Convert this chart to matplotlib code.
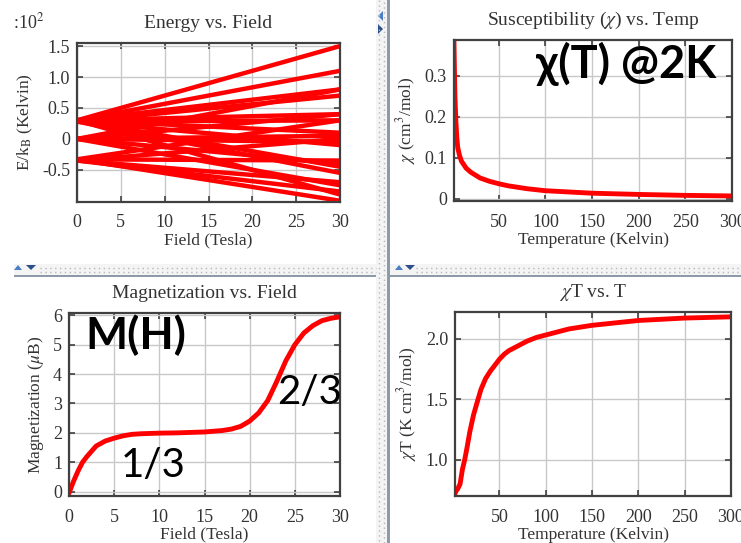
import numpy as np
import matplotlib
matplotlib.use("Agg")
from matplotlib import pyplot as plt
from matplotlib.patches import Rectangle, Polygon
from matplotlib.lines import Line2D

plt.rcParams['font.family'] = ['Liberation Serif', 'DejaVu Serif']
plt.rcParams['mathtext.fontset'] = 'stix'

W, H = 741, 543

# --- energy levels (in units of 10^2 K), straight Zeeman lines from 0 T to 30 T
field_ends = [0, 30]
e_start = [0.30, 0.30, 0.30, 0.28, 0.30, 0.28, 0.30, 0.28, 0.30, 0.28, 0.30,
           0.00, 0.00, 0.00, 0.00, 0.00, 0.00,
           -0.33, -0.35, -0.33, -0.35, -0.35, -0.33]
e_end = [1.50, 1.10, 0.80, 0.70, 0.40, 0.30, 0.10, -0.10, -0.45, -0.55, -0.90,
         0.80, 0.40, 0.05, -0.05, -0.40, -0.75,
         0.30, 0.00, -0.35, -0.70, -0.85, -1.00]

# --- susceptibility vs temperature
temp_chi = [2, 2.5, 3, 4, 5, 6, 8, 10, 15, 20, 30, 40, 50, 60, 80, 100,
            150, 200, 250, 300]
chi = [0.38, 0.31, 0.25, 0.19, 0.15, 0.125, 0.105, 0.092, 0.075, 0.065,
       0.051, 0.043, 0.037, 0.032, 0.025, 0.020, 0.014, 0.011, 0.0087, 0.0073]

# --- magnetization vs field
field_m = [0, 0.5, 1, 1.5, 2, 3, 4, 5, 6, 7, 8, 10, 12, 15, 17, 18, 19, 20,
           21, 22, 23, 24, 25, 26, 27, 28, 29, 30]
mag = [-0.05, 0.35, 0.7, 1.0, 1.2, 1.55, 1.72, 1.82, 1.9, 1.95, 1.97, 1.99,
       2.0, 2.03, 2.08, 2.13, 2.22, 2.4, 2.68, 3.1, 3.75, 4.45, 5.0, 5.4,
       5.65, 5.82, 5.9, 5.95]

# --- chi*T vs temperature
temp_chit = [2, 3, 5, 7.5, 10, 12.5, 15, 18, 22, 25, 30, 35, 40, 45, 50, 55,
             60, 70, 80, 90, 100, 125, 150, 175, 200, 250, 300]
chit = [0.72, 0.74, 0.76, 0.80, 0.92, 1.0, 1.1, 1.23, 1.37, 1.45, 1.58,
        1.67, 1.73, 1.78, 1.83, 1.87, 1.90, 1.94, 1.98, 2.01, 2.03, 2.08,
        2.11, 2.13, 2.15, 2.17, 2.18]

RED = '#ff0000'
FRAME = '#404040'
TXT = '#333333'


def px_axes(fig, left, top, right, bottom):
    return fig.add_axes([left / W, 1 - bottom / H, (right - left) / W,
                         (bottom - top) / H])


def style(ax, title, xlabel, ylabel):
    ax.set_title(title, fontsize=14, color=TXT, pad=11)
    ax.set_xlabel(xlabel, fontsize=12.5, color=TXT, labelpad=1)
    ax.set_ylabel(ylabel, fontsize=12.5, color=TXT, labelpad=5)
    ax.grid(True, color='#c8c8c8', lw=1.0)
    ax.set_axisbelow(True)
    for s in ax.spines.values():
        s.set_color(FRAME)
        s.set_linewidth(1.6)
    ax.tick_params(direction='in', length=4, width=1.2, color=FRAME,
                   top=True, right=True, labelsize=13, labelcolor=TXT)
    ax.tick_params(axis='x', pad=9)
    ax.tick_params(axis='y', pad=5)


fig = plt.figure(figsize=(W / 100, H / 100), dpi=100)
fig.patch.set_facecolor('white')

# panel 1: energy vs field
ax1 = px_axes(fig, 77, 43, 340, 202)
for a, b in zip(e_start, e_end):
    ax1.plot(field_ends, [a, b], color=RED, lw=3.2, solid_capstyle='butt')
ax1.set_xlim(0, 30)
ax1.set_ylim(-1.02, 1.55)
ax1.set_xticks([0, 5, 10, 15, 20, 25, 30])
ax1.set_yticks([-0.5, 0, 0.5, 1.0, 1.5])
ax1.set_yticklabels(['-0.5', '0', '0.5', '1.0', '1.5'])
style(ax1, 'Energy vs. Field', 'Field (Tesla)', r'E/k$_{\rm B}$ (Kelvin)')
fig.text(13 / W, 1 - 28 / H, ':10$^{2}$', fontsize=13, color=TXT,
         ha='left', va='baseline')

# panel 2: susceptibility vs temperature
ax2 = px_axes(fig, 454, 40, 732, 201)
ax2.plot(temp_chi, chi, color=RED, lw=3.5)
ax2.set_xlim(2, 300)
ax2.set_ylim(-0.005, 0.387)
ax2.set_xticks([50, 100, 150, 200, 250, 300])
ax2.set_yticks([0, 0.1, 0.2, 0.3])
ax2.set_yticklabels(['0', '0.1', '0.2', '0.3'])
style(ax2, r'Susceptibility ($\chi$) vs. Temp', 'Temperature (Kelvin)',
      r'$\chi$ (cm$^3$/mol)')
ax2.text(0.618, 0.85, 'χ(T) @2K', transform=ax2.transAxes, fontsize=32.5,
         fontweight='bold', family=['Lato', 'DejaVu Sans'], ha='center',
         va='center', color='black')

# panel 3: magnetization vs field
ax3 = px_axes(fig, 69, 313, 340, 496)
ax3.plot(field_m, mag, color=RED, lw=3.5)
ax3.set_xlim(0, 30)
ax3.set_ylim(-0.15, 6.08)
ax3.set_xticks([0, 5, 10, 15, 20, 25, 30])
ax3.set_yticks([0, 1, 2, 3, 4, 5, 6])
style(ax3, 'Magnetization vs. Field', 'Field (Tesla)',
      r'Magnetization ($\mu$B)')
ax3.text(0.059, 0.88, 'M(H)', transform=ax3.transAxes, fontsize=32,
         fontweight='bold', family=['Lato', 'DejaVu Sans'], ha='left',
         va='center', color='black')
ax3.text(0.31, 0.164, '1/3', transform=ax3.transAxes, fontsize=29,
         family=['Lato', 'DejaVu Sans'], ha='center', va='center',
         color='black')
ax3.text(0.889, 0.563, '2/3', transform=ax3.transAxes, fontsize=29,
         family=['Lato', 'DejaVu Sans'], ha='center', va='center',
         color='black')

# panel 4: chi*T vs temperature
ax4 = px_axes(fig, 455, 312, 731, 496)
ax4.plot(temp_chit, chit, color=RED, lw=3.5)
ax4.set_xlim(2, 300)
ax4.set_ylim(0.70, 2.22)
ax4.set_xticks([50, 100, 150, 200, 250, 300])
ax4.set_yticks([1.0, 1.5, 2.0])
ax4.set_yticklabels(['1.0', '1.5', '2.0'])
style(ax4, r'$\chi$T vs. T', 'Temperature (Kelvin)',
      r'$\chi$T (K cm$^3$/mol)')


# window separators of the screenshot
def rect(x0, y0, x1, y1, color):
    fig.add_artist(Rectangle((x0 / W, 1 - y1 / H), (x1 - x0) / W,
                             (y1 - y0) / H, transform=fig.transFigure,
                             facecolor=color, edgecolor='none'))


def dots(x0, y0, x1, y1):
    fig.add_artist(Line2D([x0 / W, x1 / W], [1 - y0 / H, 1 - y1 / H],
                          transform=fig.transFigure, color='#b4b8bc',
                          lw=1.0, ls=(0, (1, 2.5))))


def tri(points, color):
    fig.add_artist(Polygon([(x / W, 1 - y / H) for x, y in points],
                           closed=True, transform=fig.transFigure,
                           facecolor=color, edgecolor='none'))


rect(376, 0, 387, H, '#f4f4f4')
rect(387, 0, 390, H, '#8d9aa8')
dots(379, 0, 379, H)
dots(383.5, 1.5, 383.5, H)

rect(14, 264, 376, 275, '#f4f4f4')
rect(14, 275, 376, 277, '#8d9aa8')
dots(40, 268, 376, 268)
dots(40, 272, 376, 272)

rect(390, 264, W, 275, '#f4f4f4')
rect(390, 275, W, 277, '#8d9aa8')
dots(416, 268, W, 268)
dots(416, 272, W, 272)

tri([(14, 270), (18, 265), (22, 270)], '#4a7fc8')
tri([(26, 265), (36, 265), (31, 270)], '#2c4e8a')
tri([(395, 270), (399, 265), (403, 270)], '#4a7fc8')
tri([(405, 265), (415, 265), (410, 270)], '#2c4e8a')
tri([(383, 11), (383, 21), (378, 16)], '#4a7fc8')
tri([(378, 24), (378, 34), (383, 29)], '#2c4e8a')

fig.savefig('out.png', dpi=100)
